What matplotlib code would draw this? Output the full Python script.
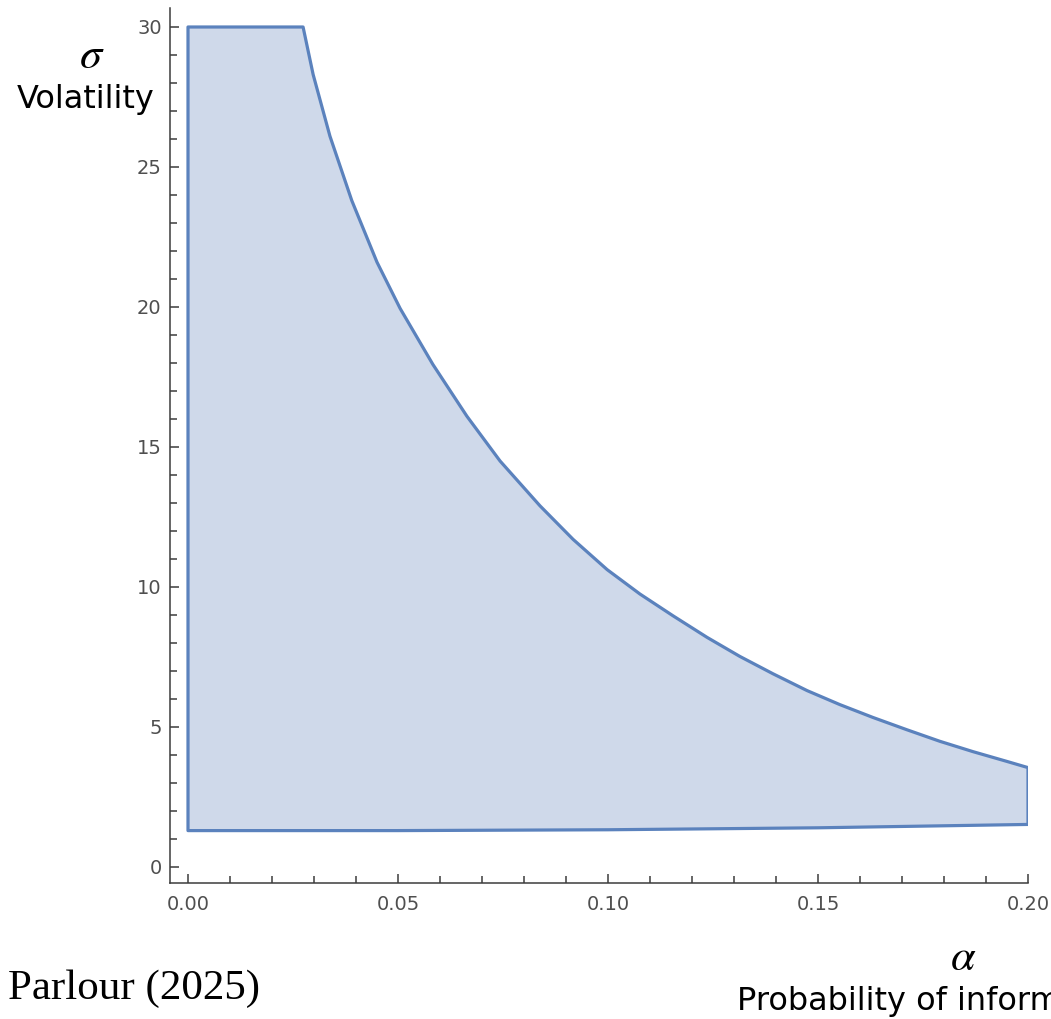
import numpy as np
import matplotlib
matplotlib.use("Agg")
import matplotlib.pyplot as plt
from matplotlib.ticker import MultipleLocator

# upper boundary of the region (alpha, sigma)
alpha_upper = [0.0, 0.0274, 0.0298, 0.0338, 0.0390, 0.0450, 0.0505, 0.0583, 0.0664,
               0.0743, 0.0838, 0.0917, 0.0998, 0.1076, 0.1155, 0.1236, 0.1314,
               0.1393, 0.1474, 0.1552, 0.1631, 0.1712, 0.1790, 0.1869, 0.1950, 0.2]
sigma_upper = [30.0, 30.0, 28.3, 26.1, 23.8, 21.6, 19.95, 17.95, 16.1,
               14.5, 12.9, 11.7, 10.62, 9.75, 8.97, 8.2, 7.52,
               6.9, 6.3, 5.8, 5.34, 4.9, 4.49, 4.12, 3.77, 3.55]

# lower boundary
alpha_lower = [0.0, 0.05, 0.10, 0.15, 0.2]
sigma_lower = [1.30, 1.30, 1.33, 1.40, 1.52]

x_ticks = [0.00, 0.05, 0.10, 0.15, 0.20]
x_ticklabels = ["0.00", "0.05", "0.10", "0.15", "0.20"]
y_ticks = [0, 5, 10, 15, 20, 25, 30]

edge_col = "#5b82bd"
face_col = "#cfd9ea"
axis_col = "#3c3c3c"
label_col = "#4f4f4f"

W, H = 1051, 1019
fig = plt.figure(figsize=(W / 100, H / 100), dpi=100)
ax = fig.add_axes([170 / W, (H - 883) / H, (1028 - 170) / W, (883 - 8) / H])

# closed polygon: lower left->right, up the right edge, upper right->left
poly_x = list(alpha_lower) + list(alpha_upper[::-1])
poly_y = list(sigma_lower) + list(sigma_upper[::-1])
ax.fill(poly_x, poly_y, facecolor=face_col, edgecolor=edge_col,
        linewidth=2.3, joinstyle="round", closed=True)

ax.set_xlim(-18 / 4200, 0.2)
ax.set_ylim(-16 / 28, 859 / 28)

for s in ["top", "right"]:
    ax.spines[s].set_visible(False)
for s in ["left", "bottom"]:
    ax.spines[s].set_color(axis_col)
    ax.spines[s].set_linewidth(1.1)

ax.set_xticks(x_ticks)
ax.set_xticklabels(x_ticklabels)
ax.set_yticks(y_ticks)
ax.xaxis.set_minor_locator(MultipleLocator(0.01))
ax.yaxis.set_minor_locator(MultipleLocator(1))
ax.tick_params(which="both", direction="in", color=axis_col, width=1.1)
ax.tick_params(which="major", length=6.5)
ax.tick_params(which="minor", length=5)
ax.tick_params(axis="x", which="major", labelsize=14, labelcolor=label_col, pad=9)
ax.tick_params(axis="y", which="major", labelsize=14, labelcolor=label_col, pad=6)

plt.rcParams["mathtext.fontset"] = "stix"

fig.text(92 / W, 1 - 55 / H, r"$\sigma$", fontsize=32, ha="center", va="center")
fig.text(17 / W, 1 - 108 / H, "Volatility", fontsize=23, ha="left", va="baseline",
         family="DejaVu Sans")
fig.text(963 / W, 1 - 957 / H, r"$\alpha$", fontsize=32, ha="center", va="center")
fig.text(737 / W, 1 - 1010 / H, "Probability of informed trading", fontsize=23,
         ha="left", va="baseline", family="DejaVu Sans")
fig.text(8 / W, 1 - 999 / H, "Parlour (2025)", fontsize=31, ha="left", va="baseline",
         family="Liberation Serif")

fig.savefig("out.png", dpi=100)
